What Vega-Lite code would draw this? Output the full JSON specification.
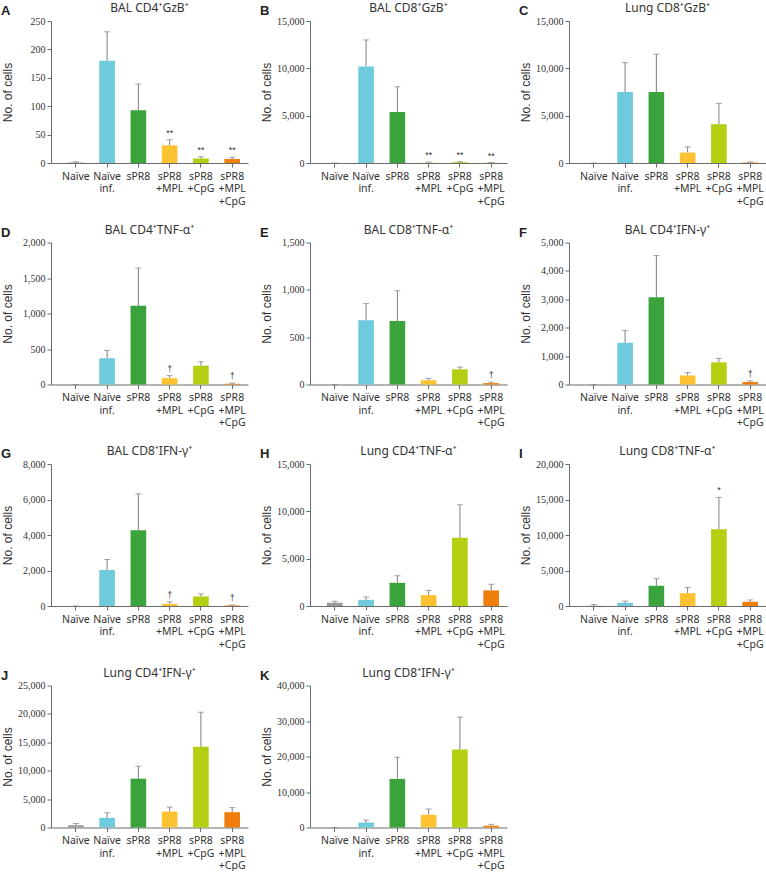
{
  "$schema": "https://vega.github.io/schema/vega-lite/v6.json",
  "padding": {"left": 1, "top": 2, "right": 2, "bottom": 0},
  "background": "white",
  "datasets": {
    "cells": [
      {"panel": "A", "group": "Naïve", "value": 1, "upper": 2, "sig": ""},
      {"panel": "A", "group": "Naïve inf.", "value": 180, "upper": 231, "sig": ""},
      {"panel": "A", "group": "sPR8", "value": 93, "upper": 139, "sig": ""},
      {"panel": "A", "group": "sPR8 +MPL", "value": 31, "upper": 41, "sig": "**"},
      {"panel": "A", "group": "sPR8 +CpG", "value": 8, "upper": 11, "sig": "**"},
      {"panel": "A", "group": "sPR8 +MPL +CpG", "value": 7, "upper": 10, "sig": "**"},
      {"panel": "B", "group": "Naïve", "value": 0, "upper": 0, "sig": ""},
      {"panel": "B", "group": "Naïve inf.", "value": 10200, "upper": 13000, "sig": ""},
      {"panel": "B", "group": "sPR8", "value": 5400, "upper": 8050, "sig": ""},
      {"panel": "B", "group": "sPR8 +MPL", "value": 30, "upper": 100, "sig": "**"},
      {"panel": "B", "group": "sPR8 +CpG", "value": 80, "upper": 130, "sig": "**"},
      {"panel": "B", "group": "sPR8 +MPL +CpG", "value": 20, "upper": 40, "sig": "**"},
      {"panel": "C", "group": "Naïve", "value": 0, "upper": 0, "sig": ""},
      {"panel": "C", "group": "Naïve inf.", "value": 7500, "upper": 10600, "sig": ""},
      {"panel": "C", "group": "sPR8", "value": 7500, "upper": 11500, "sig": ""},
      {"panel": "C", "group": "sPR8 +MPL", "value": 1100, "upper": 1700, "sig": ""},
      {"panel": "C", "group": "sPR8 +CpG", "value": 4100, "upper": 6300, "sig": ""},
      {"panel": "C", "group": "sPR8 +MPL +CpG", "value": 50, "upper": 100, "sig": ""},
      {"panel": "D", "group": "Naïve", "value": 0, "upper": 0, "sig": ""},
      {"panel": "D", "group": "Naïve inf.", "value": 370, "upper": 480, "sig": ""},
      {"panel": "D", "group": "sPR8", "value": 1110, "upper": 1640, "sig": ""},
      {"panel": "D", "group": "sPR8 +MPL", "value": 90, "upper": 125, "sig": "†"},
      {"panel": "D", "group": "sPR8 +CpG", "value": 265, "upper": 320, "sig": ""},
      {"panel": "D", "group": "sPR8 +MPL +CpG", "value": 10, "upper": 20, "sig": "†"},
      {"panel": "E", "group": "Naïve", "value": 0, "upper": 0, "sig": ""},
      {"panel": "E", "group": "Naïve inf.", "value": 680, "upper": 855, "sig": ""},
      {"panel": "E", "group": "sPR8", "value": 670, "upper": 990, "sig": ""},
      {"panel": "E", "group": "sPR8 +MPL", "value": 45, "upper": 65, "sig": ""},
      {"panel": "E", "group": "sPR8 +CpG", "value": 160, "upper": 185, "sig": ""},
      {"panel": "E", "group": "sPR8 +MPL +CpG", "value": 15, "upper": 25, "sig": "†"},
      {"panel": "F", "group": "Naïve", "value": 0, "upper": 0, "sig": ""},
      {"panel": "F", "group": "Naïve inf.", "value": 1470, "upper": 1900, "sig": ""},
      {"panel": "F", "group": "sPR8", "value": 3070, "upper": 4540, "sig": ""},
      {"panel": "F", "group": "sPR8 +MPL", "value": 320, "upper": 420, "sig": ""},
      {"panel": "F", "group": "sPR8 +CpG", "value": 780, "upper": 920, "sig": ""},
      {"panel": "F", "group": "sPR8 +MPL +CpG", "value": 90, "upper": 130, "sig": "†"},
      {"panel": "G", "group": "Naïve", "value": 0, "upper": 0, "sig": ""},
      {"panel": "G", "group": "Naïve inf.", "value": 2030, "upper": 2620, "sig": ""},
      {"panel": "G", "group": "sPR8", "value": 4270, "upper": 6320, "sig": ""},
      {"panel": "G", "group": "sPR8 +MPL", "value": 120, "upper": 230, "sig": "†"},
      {"panel": "G", "group": "sPR8 +CpG", "value": 540, "upper": 680, "sig": ""},
      {"panel": "G", "group": "sPR8 +MPL +CpG", "value": 30, "upper": 60, "sig": "†"},
      {"panel": "H", "group": "Naïve", "value": 350, "upper": 500, "sig": ""},
      {"panel": "H", "group": "Naïve inf.", "value": 650, "upper": 950, "sig": ""},
      {"panel": "H", "group": "sPR8", "value": 2450, "upper": 3200, "sig": ""},
      {"panel": "H", "group": "sPR8 +MPL", "value": 1150, "upper": 1650, "sig": ""},
      {"panel": "H", "group": "sPR8 +CpG", "value": 7200, "upper": 10700, "sig": ""},
      {"panel": "H", "group": "sPR8 +MPL +CpG", "value": 1650, "upper": 2300, "sig": ""},
      {"panel": "I", "group": "Naïve", "value": 30, "upper": 200, "sig": ""},
      {"panel": "I", "group": "Naïve inf.", "value": 450, "upper": 700, "sig": ""},
      {"panel": "I", "group": "sPR8", "value": 2850, "upper": 3850, "sig": ""},
      {"panel": "I", "group": "sPR8 +MPL", "value": 1800, "upper": 2600, "sig": ""},
      {"panel": "I", "group": "sPR8 +CpG", "value": 10800, "upper": 15300, "sig": "*"},
      {"panel": "I", "group": "sPR8 +MPL +CpG", "value": 600, "upper": 850, "sig": ""},
      {"panel": "J", "group": "Naïve", "value": 400, "upper": 700, "sig": ""},
      {"panel": "J", "group": "Naïve inf.", "value": 1700, "upper": 2600, "sig": ""},
      {"panel": "J", "group": "sPR8", "value": 8600, "upper": 10800, "sig": ""},
      {"panel": "J", "group": "sPR8 +MPL", "value": 2800, "upper": 3600, "sig": ""},
      {"panel": "J", "group": "sPR8 +CpG", "value": 14200, "upper": 20300, "sig": ""},
      {"panel": "J", "group": "sPR8 +MPL +CpG", "value": 2700, "upper": 3500, "sig": ""},
      {"panel": "K", "group": "Naïve", "value": 0, "upper": 0, "sig": ""},
      {"panel": "K", "group": "Naïve inf.", "value": 1400, "upper": 2100, "sig": ""},
      {"panel": "K", "group": "sPR8", "value": 13700, "upper": 19800, "sig": ""},
      {"panel": "K", "group": "sPR8 +MPL", "value": 3600, "upper": 5200, "sig": ""},
      {"panel": "K", "group": "sPR8 +CpG", "value": 22000, "upper": 31100, "sig": ""},
      {"panel": "K", "group": "sPR8 +MPL +CpG", "value": 500, "upper": 900, "sig": ""}
    ]
  },
  "columns": 3,
  "spacing": {"row": 16.5, "column": 12},
  "concat": [
    {"title": {"text": "A", "anchor": "start", "frame": "bounds", "font": "Liberation Sans", "fontSize": 13, "fontWeight": "bold", "color": "#222", "offset": -16}, "vconcat": [{"title": "BAL CD4⁺GzB⁺", "width": 197, "height": 142, "data": {"name": "cells"}, "transform": [{"filter": "datum.panel === 'A'"}],
      "resolve": {"axis": {"y": "independent"}},
      "encoding": {"x": {"field": "group", "type": "nominal", "sort": null, "scale": {"domain": ["Naïve", "Naïve inf.", "sPR8", "sPR8 +MPL", "sPR8 +CpG", "sPR8 +MPL +CpG"], "paddingInner": 0.5, "paddingOuter": 0.4, "align": 0.68}, "axis": {"labelExpr": "split(datum.label, ' ')"}}},
      "layer": [
        {"mark": {"type": "rule", "color": "#7f7f7f"}, "encoding": {"y": {"field": "value", "type": "quantitative", "scale": {"domain": [0, 250], "nice": false}, "axis": {"title": "No. of cells", "values": [0, 50, 100, 150, 200, 250], "format": ",d", "labelOverlap": false}}, "y2": {"field": "upper"}}},
        {"mark": {"type": "bar"}, "encoding": {"y": {"field": "value", "type": "quantitative", "axis": null}, "color": {"field": "group", "type": "nominal", "legend": null, "scale": {"domain": ["Naïve", "Naïve inf.", "sPR8", "sPR8 +MPL", "sPR8 +CpG", "sPR8 +MPL +CpG"], "range": ["#9b9b9b", "#6ecadc", "#3ba33b", "#fdc232", "#b4cf12", "#f07e0d"]}}}},
        {"mark": {"type": "tick", "color": "#7f7f7f", "size": 6, "thickness": 1}, "encoding": {"y": {"field": "upper", "type": "quantitative", "axis": null}}},
        {"mark": {"type": "text", "dy": -7, "fontSize": 9, "color": "#333"}, "encoding": {"y": {"field": "upper", "type": "quantitative", "axis": null}, "text": {"field": "sig"}}}
      ]}]},
    {"title": {"text": "B", "anchor": "start", "frame": "bounds", "font": "Liberation Sans", "fontSize": 13, "fontWeight": "bold", "color": "#222", "offset": -16}, "vconcat": [{"title": "BAL CD8⁺GzB⁺", "width": 197, "height": 142, "data": {"name": "cells"}, "transform": [{"filter": "datum.panel === 'B'"}],
      "resolve": {"axis": {"y": "independent"}},
      "encoding": {"x": {"field": "group", "type": "nominal", "sort": null, "scale": {"domain": ["Naïve", "Naïve inf.", "sPR8", "sPR8 +MPL", "sPR8 +CpG", "sPR8 +MPL +CpG"], "paddingInner": 0.5, "paddingOuter": 0.4, "align": 0.68}, "axis": {"labelExpr": "split(datum.label, ' ')"}}},
      "layer": [
        {"mark": {"type": "rule", "color": "#7f7f7f"}, "encoding": {"y": {"field": "value", "type": "quantitative", "scale": {"domain": [0, 15000], "nice": false}, "axis": {"title": "No. of cells", "values": [0, 5000, 10000, 15000], "format": ",d", "labelOverlap": false}}, "y2": {"field": "upper"}}},
        {"mark": {"type": "bar"}, "encoding": {"y": {"field": "value", "type": "quantitative", "axis": null}, "color": {"field": "group", "type": "nominal", "legend": null, "scale": {"domain": ["Naïve", "Naïve inf.", "sPR8", "sPR8 +MPL", "sPR8 +CpG", "sPR8 +MPL +CpG"], "range": ["#9b9b9b", "#6ecadc", "#3ba33b", "#fdc232", "#b4cf12", "#f07e0d"]}}}},
        {"mark": {"type": "tick", "color": "#7f7f7f", "size": 6, "thickness": 1}, "encoding": {"y": {"field": "upper", "type": "quantitative", "axis": null}}},
        {"mark": {"type": "text", "dy": -7, "fontSize": 9, "color": "#333"}, "encoding": {"y": {"field": "upper", "type": "quantitative", "axis": null}, "text": {"field": "sig"}}}
      ]}]},
    {"title": {"text": "C", "anchor": "start", "frame": "bounds", "font": "Liberation Sans", "fontSize": 13, "fontWeight": "bold", "color": "#222", "offset": -16}, "vconcat": [{"title": "Lung CD8⁺GzB⁺", "width": 197, "height": 142, "data": {"name": "cells"}, "transform": [{"filter": "datum.panel === 'C'"}],
      "resolve": {"axis": {"y": "independent"}},
      "encoding": {"x": {"field": "group", "type": "nominal", "sort": null, "scale": {"domain": ["Naïve", "Naïve inf.", "sPR8", "sPR8 +MPL", "sPR8 +CpG", "sPR8 +MPL +CpG"], "paddingInner": 0.5, "paddingOuter": 0.4, "align": 0.68}, "axis": {"labelExpr": "split(datum.label, ' ')"}}},
      "layer": [
        {"mark": {"type": "rule", "color": "#7f7f7f"}, "encoding": {"y": {"field": "value", "type": "quantitative", "scale": {"domain": [0, 15000], "nice": false}, "axis": {"title": "No. of cells", "values": [0, 5000, 10000, 15000], "format": ",d", "labelOverlap": false}}, "y2": {"field": "upper"}}},
        {"mark": {"type": "bar"}, "encoding": {"y": {"field": "value", "type": "quantitative", "axis": null}, "color": {"field": "group", "type": "nominal", "legend": null, "scale": {"domain": ["Naïve", "Naïve inf.", "sPR8", "sPR8 +MPL", "sPR8 +CpG", "sPR8 +MPL +CpG"], "range": ["#9b9b9b", "#6ecadc", "#3ba33b", "#fdc232", "#b4cf12", "#f07e0d"]}}}},
        {"mark": {"type": "tick", "color": "#7f7f7f", "size": 6, "thickness": 1}, "encoding": {"y": {"field": "upper", "type": "quantitative", "axis": null}}},
        {"mark": {"type": "text", "dy": -7, "fontSize": 9, "color": "#333"}, "encoding": {"y": {"field": "upper", "type": "quantitative", "axis": null}, "text": {"field": "sig"}}}
      ]}]},
    {"title": {"text": "D", "anchor": "start", "frame": "bounds", "font": "Liberation Sans", "fontSize": 13, "fontWeight": "bold", "color": "#222", "offset": -16}, "vconcat": [{"title": "BAL CD4⁺TNF-α⁺", "width": 197, "height": 142, "data": {"name": "cells"}, "transform": [{"filter": "datum.panel === 'D'"}],
      "resolve": {"axis": {"y": "independent"}},
      "encoding": {"x": {"field": "group", "type": "nominal", "sort": null, "scale": {"domain": ["Naïve", "Naïve inf.", "sPR8", "sPR8 +MPL", "sPR8 +CpG", "sPR8 +MPL +CpG"], "paddingInner": 0.5, "paddingOuter": 0.4, "align": 0.68}, "axis": {"labelExpr": "split(datum.label, ' ')"}}},
      "layer": [
        {"mark": {"type": "rule", "color": "#7f7f7f"}, "encoding": {"y": {"field": "value", "type": "quantitative", "scale": {"domain": [0, 2000], "nice": false}, "axis": {"title": "No. of cells", "values": [0, 500, 1000, 1500, 2000], "format": ",d", "labelOverlap": false}}, "y2": {"field": "upper"}}},
        {"mark": {"type": "bar"}, "encoding": {"y": {"field": "value", "type": "quantitative", "axis": null}, "color": {"field": "group", "type": "nominal", "legend": null, "scale": {"domain": ["Naïve", "Naïve inf.", "sPR8", "sPR8 +MPL", "sPR8 +CpG", "sPR8 +MPL +CpG"], "range": ["#9b9b9b", "#6ecadc", "#3ba33b", "#fdc232", "#b4cf12", "#f07e0d"]}}}},
        {"mark": {"type": "tick", "color": "#7f7f7f", "size": 6, "thickness": 1}, "encoding": {"y": {"field": "upper", "type": "quantitative", "axis": null}}},
        {"mark": {"type": "text", "dy": -7, "fontSize": 9, "color": "#333"}, "encoding": {"y": {"field": "upper", "type": "quantitative", "axis": null}, "text": {"field": "sig"}}}
      ]}]},
    {"title": {"text": "E", "anchor": "start", "frame": "bounds", "font": "Liberation Sans", "fontSize": 13, "fontWeight": "bold", "color": "#222", "offset": -16}, "vconcat": [{"title": "BAL CD8⁺TNF-α⁺", "width": 197, "height": 142, "data": {"name": "cells"}, "transform": [{"filter": "datum.panel === 'E'"}],
      "resolve": {"axis": {"y": "independent"}},
      "encoding": {"x": {"field": "group", "type": "nominal", "sort": null, "scale": {"domain": ["Naïve", "Naïve inf.", "sPR8", "sPR8 +MPL", "sPR8 +CpG", "sPR8 +MPL +CpG"], "paddingInner": 0.5, "paddingOuter": 0.4, "align": 0.68}, "axis": {"labelExpr": "split(datum.label, ' ')"}}},
      "layer": [
        {"mark": {"type": "rule", "color": "#7f7f7f"}, "encoding": {"y": {"field": "value", "type": "quantitative", "scale": {"domain": [0, 1500], "nice": false}, "axis": {"title": "No. of cells", "values": [0, 500, 1000, 1500], "format": ",d", "labelOverlap": false}}, "y2": {"field": "upper"}}},
        {"mark": {"type": "bar"}, "encoding": {"y": {"field": "value", "type": "quantitative", "axis": null}, "color": {"field": "group", "type": "nominal", "legend": null, "scale": {"domain": ["Naïve", "Naïve inf.", "sPR8", "sPR8 +MPL", "sPR8 +CpG", "sPR8 +MPL +CpG"], "range": ["#9b9b9b", "#6ecadc", "#3ba33b", "#fdc232", "#b4cf12", "#f07e0d"]}}}},
        {"mark": {"type": "tick", "color": "#7f7f7f", "size": 6, "thickness": 1}, "encoding": {"y": {"field": "upper", "type": "quantitative", "axis": null}}},
        {"mark": {"type": "text", "dy": -7, "fontSize": 9, "color": "#333"}, "encoding": {"y": {"field": "upper", "type": "quantitative", "axis": null}, "text": {"field": "sig"}}}
      ]}]},
    {"title": {"text": "F", "anchor": "start", "frame": "bounds", "font": "Liberation Sans", "fontSize": 13, "fontWeight": "bold", "color": "#222", "offset": -16}, "vconcat": [{"title": "BAL CD4⁺IFN-γ⁺", "width": 197, "height": 142, "data": {"name": "cells"}, "transform": [{"filter": "datum.panel === 'F'"}],
      "resolve": {"axis": {"y": "independent"}},
      "encoding": {"x": {"field": "group", "type": "nominal", "sort": null, "scale": {"domain": ["Naïve", "Naïve inf.", "sPR8", "sPR8 +MPL", "sPR8 +CpG", "sPR8 +MPL +CpG"], "paddingInner": 0.5, "paddingOuter": 0.4, "align": 0.68}, "axis": {"labelExpr": "split(datum.label, ' ')"}}},
      "layer": [
        {"mark": {"type": "rule", "color": "#7f7f7f"}, "encoding": {"y": {"field": "value", "type": "quantitative", "scale": {"domain": [0, 5000], "nice": false}, "axis": {"title": "No. of cells", "values": [0, 1000, 2000, 3000, 4000, 5000], "format": ",d", "labelOverlap": false}}, "y2": {"field": "upper"}}},
        {"mark": {"type": "bar"}, "encoding": {"y": {"field": "value", "type": "quantitative", "axis": null}, "color": {"field": "group", "type": "nominal", "legend": null, "scale": {"domain": ["Naïve", "Naïve inf.", "sPR8", "sPR8 +MPL", "sPR8 +CpG", "sPR8 +MPL +CpG"], "range": ["#9b9b9b", "#6ecadc", "#3ba33b", "#fdc232", "#b4cf12", "#f07e0d"]}}}},
        {"mark": {"type": "tick", "color": "#7f7f7f", "size": 6, "thickness": 1}, "encoding": {"y": {"field": "upper", "type": "quantitative", "axis": null}}},
        {"mark": {"type": "text", "dy": -7, "fontSize": 9, "color": "#333"}, "encoding": {"y": {"field": "upper", "type": "quantitative", "axis": null}, "text": {"field": "sig"}}}
      ]}]},
    {"title": {"text": "G", "anchor": "start", "frame": "bounds", "font": "Liberation Sans", "fontSize": 13, "fontWeight": "bold", "color": "#222", "offset": -16}, "vconcat": [{"title": "BAL CD8⁺IFN-γ⁺", "width": 197, "height": 142, "data": {"name": "cells"}, "transform": [{"filter": "datum.panel === 'G'"}],
      "resolve": {"axis": {"y": "independent"}},
      "encoding": {"x": {"field": "group", "type": "nominal", "sort": null, "scale": {"domain": ["Naïve", "Naïve inf.", "sPR8", "sPR8 +MPL", "sPR8 +CpG", "sPR8 +MPL +CpG"], "paddingInner": 0.5, "paddingOuter": 0.4, "align": 0.68}, "axis": {"labelExpr": "split(datum.label, ' ')"}}},
      "layer": [
        {"mark": {"type": "rule", "color": "#7f7f7f"}, "encoding": {"y": {"field": "value", "type": "quantitative", "scale": {"domain": [0, 8000], "nice": false}, "axis": {"title": "No. of cells", "values": [0, 2000, 4000, 6000, 8000], "format": ",d", "labelOverlap": false}}, "y2": {"field": "upper"}}},
        {"mark": {"type": "bar"}, "encoding": {"y": {"field": "value", "type": "quantitative", "axis": null}, "color": {"field": "group", "type": "nominal", "legend": null, "scale": {"domain": ["Naïve", "Naïve inf.", "sPR8", "sPR8 +MPL", "sPR8 +CpG", "sPR8 +MPL +CpG"], "range": ["#9b9b9b", "#6ecadc", "#3ba33b", "#fdc232", "#b4cf12", "#f07e0d"]}}}},
        {"mark": {"type": "tick", "color": "#7f7f7f", "size": 6, "thickness": 1}, "encoding": {"y": {"field": "upper", "type": "quantitative", "axis": null}}},
        {"mark": {"type": "text", "dy": -7, "fontSize": 9, "color": "#333"}, "encoding": {"y": {"field": "upper", "type": "quantitative", "axis": null}, "text": {"field": "sig"}}}
      ]}]},
    {"title": {"text": "H", "anchor": "start", "frame": "bounds", "font": "Liberation Sans", "fontSize": 13, "fontWeight": "bold", "color": "#222", "offset": -16}, "vconcat": [{"title": "Lung CD4⁺TNF-α⁺", "width": 197, "height": 142, "data": {"name": "cells"}, "transform": [{"filter": "datum.panel === 'H'"}],
      "resolve": {"axis": {"y": "independent"}},
      "encoding": {"x": {"field": "group", "type": "nominal", "sort": null, "scale": {"domain": ["Naïve", "Naïve inf.", "sPR8", "sPR8 +MPL", "sPR8 +CpG", "sPR8 +MPL +CpG"], "paddingInner": 0.5, "paddingOuter": 0.4, "align": 0.68}, "axis": {"labelExpr": "split(datum.label, ' ')"}}},
      "layer": [
        {"mark": {"type": "rule", "color": "#7f7f7f"}, "encoding": {"y": {"field": "value", "type": "quantitative", "scale": {"domain": [0, 15000], "nice": false}, "axis": {"title": "No. of cells", "values": [0, 5000, 10000, 15000], "format": ",d", "labelOverlap": false}}, "y2": {"field": "upper"}}},
        {"mark": {"type": "bar"}, "encoding": {"y": {"field": "value", "type": "quantitative", "axis": null}, "color": {"field": "group", "type": "nominal", "legend": null, "scale": {"domain": ["Naïve", "Naïve inf.", "sPR8", "sPR8 +MPL", "sPR8 +CpG", "sPR8 +MPL +CpG"], "range": ["#9b9b9b", "#6ecadc", "#3ba33b", "#fdc232", "#b4cf12", "#f07e0d"]}}}},
        {"mark": {"type": "tick", "color": "#7f7f7f", "size": 6, "thickness": 1}, "encoding": {"y": {"field": "upper", "type": "quantitative", "axis": null}}},
        {"mark": {"type": "text", "dy": -7, "fontSize": 9, "color": "#333"}, "encoding": {"y": {"field": "upper", "type": "quantitative", "axis": null}, "text": {"field": "sig"}}}
      ]}]},
    {"title": {"text": "I", "anchor": "start", "frame": "bounds", "font": "Liberation Sans", "fontSize": 13, "fontWeight": "bold", "color": "#222", "offset": -16}, "vconcat": [{"title": "Lung CD8⁺TNF-α⁺", "width": 197, "height": 142, "data": {"name": "cells"}, "transform": [{"filter": "datum.panel === 'I'"}],
      "resolve": {"axis": {"y": "independent"}},
      "encoding": {"x": {"field": "group", "type": "nominal", "sort": null, "scale": {"domain": ["Naïve", "Naïve inf.", "sPR8", "sPR8 +MPL", "sPR8 +CpG", "sPR8 +MPL +CpG"], "paddingInner": 0.5, "paddingOuter": 0.4, "align": 0.68}, "axis": {"labelExpr": "split(datum.label, ' ')"}}},
      "layer": [
        {"mark": {"type": "rule", "color": "#7f7f7f"}, "encoding": {"y": {"field": "value", "type": "quantitative", "scale": {"domain": [0, 20000], "nice": false}, "axis": {"title": "No. of cells", "values": [0, 5000, 10000, 15000, 20000], "format": ",d", "labelOverlap": false}}, "y2": {"field": "upper"}}},
        {"mark": {"type": "bar"}, "encoding": {"y": {"field": "value", "type": "quantitative", "axis": null}, "color": {"field": "group", "type": "nominal", "legend": null, "scale": {"domain": ["Naïve", "Naïve inf.", "sPR8", "sPR8 +MPL", "sPR8 +CpG", "sPR8 +MPL +CpG"], "range": ["#9b9b9b", "#6ecadc", "#3ba33b", "#fdc232", "#b4cf12", "#f07e0d"]}}}},
        {"mark": {"type": "tick", "color": "#7f7f7f", "size": 6, "thickness": 1}, "encoding": {"y": {"field": "upper", "type": "quantitative", "axis": null}}},
        {"mark": {"type": "text", "dy": -7, "fontSize": 9, "color": "#333"}, "encoding": {"y": {"field": "upper", "type": "quantitative", "axis": null}, "text": {"field": "sig"}}}
      ]}]},
    {"title": {"text": "J", "anchor": "start", "frame": "bounds", "font": "Liberation Sans", "fontSize": 13, "fontWeight": "bold", "color": "#222", "offset": -16}, "vconcat": [{"title": "Lung CD4⁺IFN-γ⁺", "width": 197, "height": 142, "data": {"name": "cells"}, "transform": [{"filter": "datum.panel === 'J'"}],
      "resolve": {"axis": {"y": "independent"}},
      "encoding": {"x": {"field": "group", "type": "nominal", "sort": null, "scale": {"domain": ["Naïve", "Naïve inf.", "sPR8", "sPR8 +MPL", "sPR8 +CpG", "sPR8 +MPL +CpG"], "paddingInner": 0.5, "paddingOuter": 0.4, "align": 0.68}, "axis": {"labelExpr": "split(datum.label, ' ')"}}},
      "layer": [
        {"mark": {"type": "rule", "color": "#7f7f7f"}, "encoding": {"y": {"field": "value", "type": "quantitative", "scale": {"domain": [0, 25000], "nice": false}, "axis": {"title": "No. of cells", "values": [0, 5000, 10000, 15000, 20000, 25000], "format": ",d", "labelOverlap": false}}, "y2": {"field": "upper"}}},
        {"mark": {"type": "bar"}, "encoding": {"y": {"field": "value", "type": "quantitative", "axis": null}, "color": {"field": "group", "type": "nominal", "legend": null, "scale": {"domain": ["Naïve", "Naïve inf.", "sPR8", "sPR8 +MPL", "sPR8 +CpG", "sPR8 +MPL +CpG"], "range": ["#9b9b9b", "#6ecadc", "#3ba33b", "#fdc232", "#b4cf12", "#f07e0d"]}}}},
        {"mark": {"type": "tick", "color": "#7f7f7f", "size": 6, "thickness": 1}, "encoding": {"y": {"field": "upper", "type": "quantitative", "axis": null}}},
        {"mark": {"type": "text", "dy": -7, "fontSize": 9, "color": "#333"}, "encoding": {"y": {"field": "upper", "type": "quantitative", "axis": null}, "text": {"field": "sig"}}}
      ]}]},
    {"title": {"text": "K", "anchor": "start", "frame": "bounds", "font": "Liberation Sans", "fontSize": 13, "fontWeight": "bold", "color": "#222", "offset": -16}, "vconcat": [{"title": "Lung CD8⁺IFN-γ⁺", "width": 197, "height": 142, "data": {"name": "cells"}, "transform": [{"filter": "datum.panel === 'K'"}],
      "resolve": {"axis": {"y": "independent"}},
      "encoding": {"x": {"field": "group", "type": "nominal", "sort": null, "scale": {"domain": ["Naïve", "Naïve inf.", "sPR8", "sPR8 +MPL", "sPR8 +CpG", "sPR8 +MPL +CpG"], "paddingInner": 0.5, "paddingOuter": 0.4, "align": 0.68}, "axis": {"labelExpr": "split(datum.label, ' ')"}}},
      "layer": [
        {"mark": {"type": "rule", "color": "#7f7f7f"}, "encoding": {"y": {"field": "value", "type": "quantitative", "scale": {"domain": [0, 40000], "nice": false}, "axis": {"title": "No. of cells", "values": [0, 10000, 20000, 30000, 40000], "format": ",d", "labelOverlap": false}}, "y2": {"field": "upper"}}},
        {"mark": {"type": "bar"}, "encoding": {"y": {"field": "value", "type": "quantitative", "axis": null}, "color": {"field": "group", "type": "nominal", "legend": null, "scale": {"domain": ["Naïve", "Naïve inf.", "sPR8", "sPR8 +MPL", "sPR8 +CpG", "sPR8 +MPL +CpG"], "range": ["#9b9b9b", "#6ecadc", "#3ba33b", "#fdc232", "#b4cf12", "#f07e0d"]}}}},
        {"mark": {"type": "tick", "color": "#7f7f7f", "size": 6, "thickness": 1}, "encoding": {"y": {"field": "upper", "type": "quantitative", "axis": null}}},
        {"mark": {"type": "text", "dy": -7, "fontSize": 9, "color": "#333"}, "encoding": {"y": {"field": "upper", "type": "quantitative", "axis": null}, "text": {"field": "sig"}}}
      ]}]}
  ],
  "config": {
    "view": {"stroke": null},
    "font": "Liberation Sans",
    "title": {"font": "Noto Sans", "fontSize": 12, "fontWeight": "normal", "color": "#333", "offset": 1, "anchor": "middle"},
    "axis": {"grid": false, "domainColor": "#6b6b6b", "tickColor": "#6b6b6b", "labelColor": "#333", "titleColor": "#333"},
    "axisY": {"minExtent": 31, "maxExtent": 31, "tickSize": 4, "labelPadding": 2, "labelOverlap": false, "labelFlush": false, "labelFont": "Liberation Sans Narrow", "labelFontSize": 10, "titleFont": "Liberation Sans", "titleFontSize": 12, "titleFontWeight": "normal", "titlePadding": 6},
    "axisX": {"title": null, "labelAngle": 0, "tickSize": 4, "labelPadding": 4, "labelFont": "Noto Sans", "labelFontSize": 10.5, "labelLineHeight": 12.5, "labelBaseline": "top", "bandPosition": 0.5, "labelOverlap": false}
  }
}
